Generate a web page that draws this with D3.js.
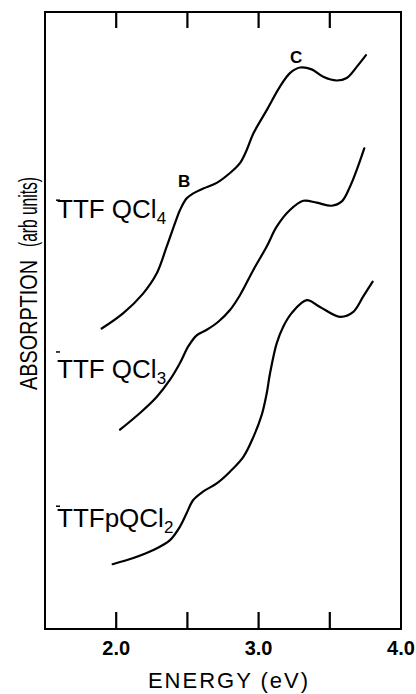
<!DOCTYPE html>
<html>
<head>
<meta charset="utf-8">
<script src="https://cdn.jsdelivr.net/npm/d3@7"></script>
<style>
  html, body { margin: 0; padding: 0; background: #fff; }
  svg { display: block; }
  text { font-family: "Liberation Sans", Arial, Helvetica, sans-serif; fill: #000; }
</style>
</head>
<body>
<svg id="chart" width="416" height="694"></svg>
<script>
// ---- data ----
const xDomain = [1.5, 4.0];
const yDomain = [0, 100];
const tickPositions = [2.0, 2.5, 3.0, 3.5];
const tickLabels = [2.0, 3.0, 4.0];
const markerValues = [69.5, 44.9, 19.9];

const energyQCl4 = [1.898, 2.050, 2.190, 2.284, 2.355, 2.413, 2.448, 2.495, 2.541, 2.612, 2.706, 2.799, 2.869, 2.916, 2.963, 3.057, 3.150, 3.220, 3.291, 3.373, 3.454, 3.548, 3.619, 3.689, 3.754];
const absQCl4    = [48.7, 51.2, 54.4, 57.6, 62.0, 65.8, 67.9, 69.8, 70.6, 71.4, 72.3, 73.9, 75.5, 77.6, 80.3, 84.1, 87.9, 90.1, 91.0, 90.7, 89.5, 88.9, 89.3, 91.1, 93.0];

const energyQCl3 = [2.027, 2.167, 2.284, 2.378, 2.448, 2.506, 2.565, 2.636, 2.717, 2.799, 2.869, 2.963, 3.057, 3.127, 3.220, 3.314, 3.408, 3.513, 3.584, 3.642, 3.689, 3.742];
const absQCl3    = [32.3, 35.0, 37.6, 40.4, 43.1, 45.8, 47.6, 48.5, 49.8, 51.7, 54.1, 58.2, 62.0, 65.2, 67.9, 69.4, 69.1, 68.6, 69.3, 71.7, 74.4, 77.9];

const energyQCl2 = [1.975, 2.120, 2.261, 2.378, 2.448, 2.495, 2.541, 2.612, 2.706, 2.799, 2.893, 2.963, 3.022, 3.057, 3.080, 3.127, 3.173, 3.232, 3.338, 3.431, 3.572, 3.665, 3.735, 3.801];
const absQCl2    = [10.5, 11.5, 12.8, 14.4, 16.6, 18.8, 20.9, 22.3, 23.6, 25.5, 27.9, 31.1, 34.7, 38.2, 41.4, 46.3, 49.0, 51.2, 53.3, 52.2, 50.6, 51.4, 53.9, 56.3];

const peakLabels = ["B", "C"];

// ---- layout ----
const svg = d3.select("#chart");
const mLeft = 45, mRight = 401, mTop = 12, mBottom = 629;
const x = d3.scaleLinear().domain(xDomain).range([mLeft, mRight]);
const y = d3.scaleLinear().domain(yDomain).range([mBottom, mTop]);

// frame
svg.append("rect")
  .attr("x", mLeft).attr("y", mTop)
  .attr("width", mRight - mLeft).attr("height", mBottom - mTop)
  .attr("fill", "none").attr("stroke", "#000").attr("stroke-width", 2);

// bottom labels
svg.selectAll("text.tlabel").data(tickLabels).enter().append("text")
  .attr("class", "tlabel")
  .attr("x", d => x(d)).attr("y", 655)
  .attr("text-anchor", "middle")
  .style("font-size", "20px").style("font-weight", "bold")
  .text(d3.format(".1f"));

// small marks near left axis
svg.selectAll("line.mark").data(markerValues).enter().append("line")
  .attr("class", "mark")
  .attr("x1", 56).attr("x2", 60)
  .attr("y1", d => y(d)).attr("y2", d => y(d))
  .attr("stroke", "#000").attr("stroke-width", 1.5);

// curves
const line = d3.line()
  .x(d => x(d[0])).y(d => y(d[1]))
  .curve(d3.curveCatmullRom.alpha(0.5));

const series = [
  d3.zip(energyQCl4, absQCl4),
  d3.zip(energyQCl3, absQCl3),
  d3.zip(energyQCl2, absQCl2)
];
svg.selectAll("path.curve").data(series).enter().append("path")
  .attr("class", "curve")
  .attr("d", line)
  .attr("fill", "none").attr("stroke", "#000")
  .attr("stroke-width", 2.2).attr("stroke-linejoin", "round").attr("stroke-linecap", "round");

// series labels
function seriesLabel(ypos, main, sub) {
  const t = svg.append("text").attr("x", 57).attr("y", ypos)
    .style("font-size", "26px");
  t.append("tspan").text(main);
  t.append("tspan").attr("dy", 6).style("font-size", "17px").text(sub);
}
seriesLabel(218, "TTF QCl", "4");
seriesLabel(378, "TTF QCl", "3");
seriesLabel(527, "TTFpQCl", "2");

// peak labels
svg.append("text").attr("x", 178).attr("y", 187)
  .style("font-size", "17px").style("font-weight", "bold").text(peakLabels[0]);
svg.append("text").attr("x", 290).attr("y", 63)
  .style("font-size", "17px").style("font-weight", "bold").text(peakLabels[1]);

// axis titles
svg.append("text")
  .attr("x", 229).attr("y", 688)
  .attr("text-anchor", "middle")
  .style("font-size", "22px").style("letter-spacing", "2px")
  .text("ENERGY (eV)");

function condensed(txt, yStart, len, size) {
  const t = svg.append("text").style("font-size", size + "px").text(txt);
  const w = t.node().getComputedTextLength();
  t.attr("transform", `translate(37,${yStart}) rotate(-90) scale(${len / w},1)`);
}
condensed("ABSORPTION", 390, 130, 23);
condensed("(arb units)", 247, 70, 25);

// inward ticks on bottom and top edges, drawn last as one path
const tp = d3.path();
tickPositions.forEach(d => {
  const px = x(d);
  tp.moveTo(px, mBottom); tp.lineTo(px, mBottom - 17);
  tp.moveTo(px, mTop);    tp.lineTo(px, mTop + 16);
});
svg.append("path")
  .attr("d", tp.toString())
  .attr("fill", "none")
  .attr("stroke", "#000")
  .attr("stroke-width", 2.2);
</script>
</body>
</html>
